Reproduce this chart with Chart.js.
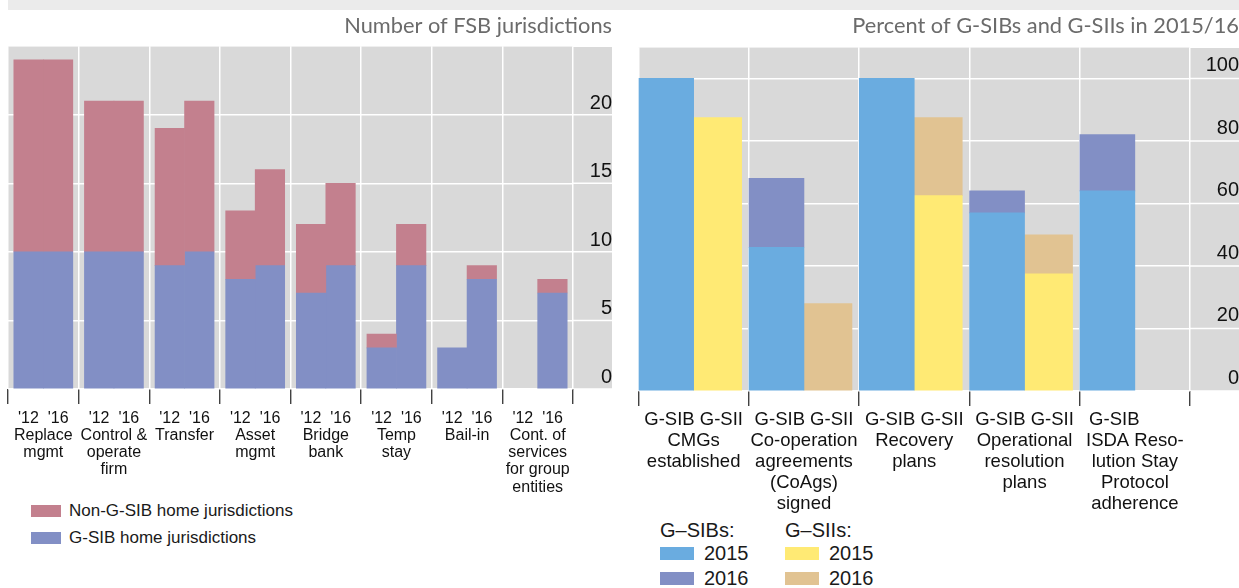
<!DOCTYPE html>
<html>
<head>
<meta charset="utf-8">
<script src="https://cdn.jsdelivr.net/npm/chart.js@4.4.1/dist/chart.umd.min.js"></script>
<style>
  body { margin: 0; background: #fff; width: 1239px; height: 588px; overflow: hidden; position: relative;
         font-family: "Liberation Sans", Arial, sans-serif; color: #1a1a1a; }
  #band { position: absolute; left: 8px; top: 0; width: 1231px; height: 10px; background: #ebebeb; }
  .box { position: absolute; }
  #leftBox { left: 0; top: 10px; width: 612px; height: 489px; }
  #rightBox { left: 630px; top: 10px; width: 609px; height: 506px; }
  .key { position: absolute; display: flex; align-items: center; white-space: nowrap; }
  .key span { display: inline-block; }
</style>
</head>
<body>
<div id="band"></div>
<div class="box" id="leftBox"><canvas id="left"></canvas></div>
<div class="box" id="rightBox"><canvas id="right"></canvas></div>
<div id="legends"></div>
<script>
// Left panel: resolution powers, number of FSB jurisdictions ('12 vs '16)
const powers = [
  ['Replace', 'mgmt'],
  ['Control &', 'operate', 'firm'],
  ['Transfer'],
  ['Asset', 'mgmt'],
  ['Bridge', 'bank'],
  ['Temp', 'stay'],
  ['Bail-in'],
  ['Cont. of', 'services', 'for group', 'entities']
];
const periods = ["'12", "'16"];
const gsib12 = [10, 10, 9, 8, 7, 3, 3, 0];
const nonGsib12 = [14, 11, 10, 5, 5, 1, 0, 0];
const gsib16 = [10, 10, 10, 9, 9, 9, 8, 7];
const nonGsib16 = [14, 11, 11, 7, 6, 3, 1, 1];
const leftTicks = [0, 5, 10, 15, 20];

// Right panel: percent of G-SIBs and G-SIIs (2015 level, 2016 level)
const measures = [
  ['G-SIB G-SII', 'CMGs', 'established'],
  ['G-SIB G-SII', 'Co-operation', 'agreements', '(CoAgs)', 'signed'],
  ['G-SIB G-SII', 'Recovery', 'plans'],
  ['G-SIB G-SII', 'Operational', 'resolution', 'plans'],
  ['G-SIB        ', 'ISDA Reso-', 'lution Stay', 'Protocol', 'adherence']
];
const gsibs2015 = [100, 46, 100, 57, 64];
const gsibs2016 = [100, 68, 100, 64, 82];
const giis2015 = [87.5, 0, 62.5, 37.5, null];
const giis2016 = [87.5, 28, 87.5, 50, null];
const rightTicks = [0, 20, 40, 60, 80, 100];

const colors = {
  pink: '#c3808e', blue: '#828fc5', sky: '#6aace0', yellow: '#ffea74', tan: '#e1c392',
  panel: '#d9d9d9', title: '#6b6b6b'
};

// grey panel behind plot + y-label strip, gridlines carried into the strip
const panelBackground = {
  id: 'panelBackground',
  beforeDraw(chart) {
    const { ctx, chartArea: a, scales: { y } } = chart;
    ctx.save();
    ctx.fillStyle = colors.panel;
    ctx.fillRect(a.left, a.top, y.right - a.left, a.bottom - a.top);
    ctx.strokeStyle = '#ffffff';
    ctx.lineWidth = 1.5;
    y.ticks.forEach((t, i) => {
      const py = y.getPixelForTick(i);
      ctx.beginPath();
      ctx.moveTo(a.right, py);
      ctx.lineTo(y.right, py);
      ctx.stroke();
    });
    ctx.restore();
  }
};

// zero-height segments are left out so they leave no hairline
const nz = arr => arr.map(v => (v ? v : null));
const diff = (a, b) => a.map((v, i) => (v === null ? null : b[i] - v || null));

function baseOptions(cfg) {
  return {
    responsive: true,
    maintainAspectRatio: false,
    animation: false,
    layout: { padding: { left: cfg.padLeft, right: 0, top: 0, bottom: 0 } },
    plugins: {
      legend: { display: false },
      tooltip: { enabled: false },
      title: {
        display: true, text: cfg.title, align: 'end', color: colors.title,
        font: { family: 'Lato', size: 21.8, weight: 'normal' },
        padding: { top: 3, bottom: cfg.titleBottom }
      }
    },
    scales: {
      x: {
        stacked: true,
        border: { display: false },
        grid: { color: '#ffffff', lineWidth: 1.5, tickColor: '#222', tickLength: 15, tickWidth: 1.2 },
        ticks: {
          color: '#111', padding: cfg.xPad, maxRotation: 0, autoSkip: false,
          font: { family: 'Liberation Sans', size: cfg.xFont, lineHeight: cfg.xLine }
        },
        afterFit: s => { s.height = cfg.xHeight; }
      },
      y: {
        stacked: true,
        position: 'right',
        min: 0, max: cfg.yMax,
        border: { display: false },
        grid: { color: '#ffffff', lineWidth: 1.5, drawTicks: false },
        afterBuildTicks: s => { s.ticks = cfg.yTicks.concat([cfg.yMax]).map(v => ({ value: v })); },
        ticks: {
          color: '#111', crossAlign: 'far', padding: cfg.yPad, labelOffset: cfg.yOffset,
          font: { family: 'Liberation Sans', size: 20 },
          callback: v => (cfg.yTicks.includes(v) ? String(v) : '')
        },
        afterFit: s => { s.width = cfg.yWidth; }
      }
    }
  };
}

const leftLabels = powers.map(p => [periods.join('  ')].concat(p));
const leftSets = [
  { label: 'G-SIB home jurisdictions', data: nz(gsib12), stack: 'p12', backgroundColor: colors.blue },
  { label: 'Non-G-SIB home jurisdictions', data: nz(nonGsib12), stack: 'p12', backgroundColor: colors.pink },
  { label: 'G-SIB home jurisdictions', data: nz(gsib16), stack: 'p16', backgroundColor: colors.blue },
  { label: 'Non-G-SIB home jurisdictions', data: nz(nonGsib16), stack: 'p16', backgroundColor: colors.pink }
].map(d => Object.assign(d, { barThickness: 29.5, borderWidth: 0 }));

new Chart(document.getElementById('left'), {
  type: 'bar',
  data: { labels: leftLabels, datasets: leftSets },
  options: baseOptions({
    title: 'Number of FSB jurisdictions', padLeft: 8, titleBottom: 7,
    xFont: 16, xLine: 1.08, xPad: 5.5, xHeight: 110,
    yMax: 25, yTicks: leftTicks, yPad: 10, yOffset: -11.5, yWidth: 39
  }),
  plugins: [panelBackground]
});

const rightSets = [
  { label: '2015', group: 'G\u2013SIBs:', data: nz(gsibs2015), stack: 'sib', backgroundColor: colors.sky, barThickness: 55 },
  { label: '2016', group: 'G\u2013SIBs:', data: diff(gsibs2015, gsibs2016), stack: 'sib', backgroundColor: colors.blue, barThickness: 55 },
  { label: '2015', group: 'G\u2013SIIs:', data: nz(giis2015), stack: 'sii', backgroundColor: colors.yellow, barThickness: 48 },
  { label: '2016', group: 'G\u2013SIIs:', data: diff(giis2015, giis2016), stack: 'sii', backgroundColor: colors.tan, barThickness: 48 }
].map(d => Object.assign(d, { borderWidth: 0 }));

new Chart(document.getElementById('right'), {
  type: 'bar',
  data: { labels: measures, datasets: rightSets },
  options: baseOptions({
    title: 'Percent of G-SIBs and G-SIIs in 2015/16', padLeft: 8.5, titleBottom: 8,
    xFont: 18.5, xLine: 1.135, xPad: 3, xHeight: 125,
    yMax: 110, yTicks: rightTicks, yPad: 15, yOffset: -12.5, yWidth: 49
  }),
  plugins: [panelBackground]
});

// HTML legends built from the dataset colours and labels
const legends = document.getElementById('legends');
function addKey(x, y, color, text, sw, sh, gap, size) {
  const el = document.createElement('div');
  el.className = 'key';
  el.style.left = x + 'px';
  el.style.top = y + 'px';
  el.style.fontSize = size + 'px';
  el.style.height = '0px';
  if (color) {
    const s = document.createElement('span');
    s.style.width = sw + 'px';
    s.style.height = sh + 'px';
    s.style.background = color;
    s.style.marginRight = gap + 'px';
    el.appendChild(s);
  }
  el.appendChild(document.createTextNode(text));
  legends.appendChild(el);
}
addKey(31, 511, leftSets[1].backgroundColor, leftSets[1].label, 30, 12, 8, 17);
addKey(31, 538, leftSets[0].backgroundColor, leftSets[0].label, 30, 12, 8, 17);
addKey(660, 530, null, rightSets[0].group, 0, 0, 0, 20);
addKey(785, 530, null, rightSets[2].group, 0, 0, 0, 20);
addKey(660, 553.5, rightSets[0].backgroundColor, rightSets[0].label, 34, 13, 10, 20);
addKey(660, 578.5, rightSets[1].backgroundColor, rightSets[1].label, 34, 13, 10, 20);
addKey(785, 553.5, rightSets[2].backgroundColor, rightSets[2].label, 34, 13, 10, 20);
addKey(785, 578.5, rightSets[3].backgroundColor, rightSets[3].label, 34, 13, 10, 20);
</script>
</body>
</html>
